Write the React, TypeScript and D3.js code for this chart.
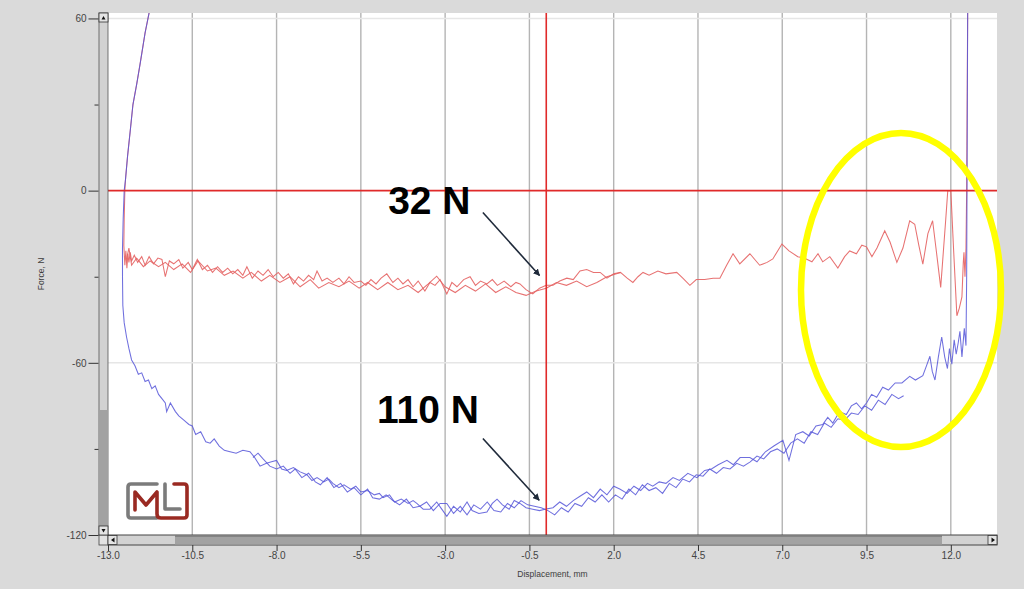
import React, { useEffect, useRef } from 'react'
import * as d3 from 'd3'

type Pt = [number, number]

// axis ticks
const xTickValues = [-13, -10.5, -8, -5.5, -3, -0.5, 2, 4.5, 7, 9.5, 12]
const yMajorTicks = [60, 0, -60, -120]
const yMinorTicks = [30, -30, -90]
const yGridLines = [60, -60]

// red trace, pass 1 (full run)
const redPass1: Pt[] = [
  [-11.78, 62], [-11.9, 55], [-12.05, 44], [-12.15, 37], [-12.26, 30], [-12.33, 22], [-12.42, 12], [-12.48, 4],
  [-12.5, 0], [-12.52, -10], [-12.53, -19], [-12.5, -26], [-12.47, -21], [-12.44, -27], [-12.41, -22], [-12.38, -25],
  [-12.34, -21.5], [-12.3, -24.5], [-12.22, -22.5], [-12.12, -25], [-12.0, -23], [-11.9, -26], [-11.78, -23],
  [-11.65, -25.5], [-11.52, -23.5], [-11.4, -24], [-11.3, -30], [-11.18, -24.5], [-11.05, -25.5], [-10.9, -24],
  [-10.78, -27], [-10.62, -25], [-10.5, -27.5], [-10.35, -24], [-10.2, -27.5], [-10.05, -26], [-9.9, -28.5],
  [-9.75, -26.5], [-9.6, -28.5], [-9.45, -27], [-9.3, -29], [-9.15, -27.5], [-9.0, -29.5], [-8.88, -26.5],
  [-8.72, -30.5], [-8.55, -28], [-8.4, -29.5], [-8.25, -27.5], [-8.1, -30], [-7.95, -28.5], [-7.8, -30.5],
  [-7.65, -29], [-7.5, -32.5], [-7.35, -30], [-7.2, -31.5], [-7.05, -29.5], [-6.9, -31], [-6.8, -28],
  [-6.65, -31.5], [-6.5, -30.5], [-6.33, -32], [-6.15, -30.5], [-6.0, -32.5], [-5.85, -30], [-5.7, -32],
  [-5.5, -31.5], [-5.35, -33], [-5.2, -31], [-5.05, -32.5], [-4.9, -30.5], [-4.73, -29], [-4.55, -32],
  [-4.4, -30.5], [-4.25, -32.5], [-4.1, -31], [-3.95, -33.5], [-3.8, -31.5], [-3.6, -35], [-3.45, -32],
  [-3.3, -33], [-3.15, -31], [-2.95, -36], [-2.8, -32], [-2.65, -33.5], [-2.45, -31], [-2.26, -30],
  [-2.1, -33], [-1.95, -31.5], [-1.76, -32.5], [-1.6, -31], [-1.45, -33], [-1.25, -31.5], [-1.05, -33.5],
  [-0.9, -32], [-0.78, -32.5], [-0.6, -34.5], [-0.4, -36], [-0.2, -34], [0, -33], [0.2, -33], [0.4, -31.5],
  [0.61, -30.5], [0.8, -31], [1.0, -28], [1.2, -27.5], [1.4, -28.5], [1.6, -28.5], [1.8, -30.5], [2.0, -29],
  [2.2, -28.5], [2.4, -30.5], [2.57, -32], [2.72, -30], [2.87, -28.5], [3.05, -29.5], [3.31, -28], [3.55, -29],
  [3.87, -28.5], [4.05, -30.5], [4.26, -33], [4.45, -31], [4.7, -31], [4.95, -30.5], [5.15, -30.5], [5.35, -26],
  [5.54, -22], [5.74, -25.5], [6.04, -22], [6.33, -26], [6.55, -25], [6.72, -23.8], [6.99, -18.6], [7.2, -21],
  [7.46, -23], [7.65, -23.5], [7.88, -24.8], [8.06, -22], [8.2, -24.8], [8.41, -23], [8.65, -27], [8.85, -23],
  [9.0, -21], [9.2, -22], [9.36, -19], [9.5, -19.6], [9.66, -23], [9.81, -20], [10.04, -14], [10.2, -18],
  [10.4, -25], [10.58, -20], [10.78, -10.5], [10.93, -11.7], [11.05, -19], [11.17, -25.6], [11.32, -15],
  [11.46, -10.5], [11.58, -22], [11.7, -33.7], [11.85, -10], [11.91, 0], [12.0, 0], [12.08, -20], [12.18, -43.6],
  [12.25, -41], [12.33, -37], [12.37, -25], [12.39, -21.5], [12.42, -30], [12.45, -20], [12.47, 0], [12.5, 62],
]

// red trace, pass 2 (ends mid-way)
const redPass2: Pt[] = [
  [-12.45, -24], [-12.38, -20], [-12.3, -26], [-12.15, -23.5], [-11.95, -26.5], [-11.75, -24.5], [-11.5, -26.5],
  [-11.3, -25], [-11.05, -27.5], [-10.8, -25.5], [-10.55, -28.5], [-10.33, -24.5], [-10.05, -28], [-9.8, -27],
  [-9.55, -29.5], [-9.29, -28], [-9.0, -30.5], [-8.75, -28.5], [-8.45, -31.5], [-8.2, -29.5], [-7.9, -32],
  [-7.6, -30], [-7.3, -33.5], [-7.0, -31], [-6.75, -34], [-6.45, -32], [-6.15, -33.5], [-5.85, -31.5],
  [-5.55, -34], [-5.3, -32], [-5.0, -34.5], [-4.7, -32], [-4.4, -34.5], [-4.1, -33], [-3.8, -35.5],
  [-3.5, -32.5], [-3.25, -29.8], [-3.0, -33.5], [-2.7, -35.5], [-2.4, -33], [-2.1, -35], [-1.8, -32.5],
  [-1.5, -35.5], [-1.2, -33.5], [-0.9, -35.5], [-0.6, -36.5], [-0.3, -35], [0, -34], [0.3, -32], [0.6, -33],
  [0.9, -31.5], [1.2, -33.5], [1.5, -32], [1.8, -30], [2.2, -28.5],
]

// blue trace, pass 1 (full run)
const bluePass1: Pt[] = [
  [-11.78, 62], [-11.9, 55], [-12.05, 44], [-12.15, 37], [-12.26, 30], [-12.33, 22], [-12.42, 12], [-12.48, 4],
  [-12.52, 0], [-12.55, -10], [-12.57, -20], [-12.57, -30], [-12.56, -40], [-12.52, -46], [-12.45, -51],
  [-12.38, -55], [-12.3, -59], [-12.2, -61], [-12.1, -64], [-12.0, -63.5], [-11.9, -66.5], [-11.8, -66],
  [-11.7, -69], [-11.6, -68], [-11.5, -71], [-11.4, -72.5], [-11.3, -74], [-11.26, -77], [-11.15, -74],
  [-11.0, -77], [-10.9, -78.5], [-10.75, -80], [-10.6, -81.5], [-10.5, -82], [-10.4, -85], [-10.25, -84],
  [-10.1, -87.5], [-9.97, -88], [-9.85, -86.5], [-9.7, -89], [-9.55, -90.5], [-9.38, -91], [-9.2, -91.5],
  [-9.0, -90.5], [-8.79, -91], [-8.65, -93], [-8.49, -96], [-8.3, -95], [-8.15, -94.5], [-8.0, -94],
  [-7.85, -97], [-7.7, -97.5], [-7.5, -96.5], [-7.3, -98], [-7.1, -99], [-6.95, -101], [-6.8, -100],
  [-6.6, -101.5], [-6.45, -100.5], [-6.33, -102], [-6.15, -103.5], [-6.0, -102.5], [-5.8, -104], [-5.65, -103],
  [-5.5, -105], [-5.3, -104.5], [-5.1, -106], [-4.95, -105.5], [-4.84, -107], [-4.65, -106], [-4.5, -108.5],
  [-4.3, -107.5], [-4.1, -109], [-3.95, -108], [-3.84, -109], [-3.65, -111], [-3.45, -111], [-3.25, -108.5],
  [-3.1, -111], [-2.95, -113.5], [-2.75, -110], [-2.55, -112], [-2.35, -108.5], [-2.2, -111.5], [-2.0, -112.5],
  [-1.76, -112], [-1.6, -109], [-1.46, -107.5], [-1.3, -109.5], [-1.1, -111], [-0.95, -108], [-0.78, -109],
  [-0.6, -110.5], [-0.4, -111], [-0.2, -111.5], [-0.04, -111], [0.2, -110.5], [0.4, -108.5], [0.6, -110],
  [0.8, -108], [1.0, -106.5], [1.2, -105], [1.4, -107], [1.6, -104], [1.8, -106], [2.0, -103], [2.18, -104],
  [2.4, -105.5], [2.6, -103], [2.8, -104.5], [3.0, -102], [3.16, -103], [3.35, -101.5], [3.55, -102],
  [3.76, -100], [3.95, -101], [4.2, -98.5], [4.47, -100], [4.7, -97.5], [4.9, -97], [5.1, -95.5], [5.36, -94],
  [5.55, -95.5], [5.75, -93], [6.04, -93], [6.25, -94.5], [6.5, -91], [6.75, -89], [7.02, -87], [7.2, -94],
  [7.4, -85], [7.61, -84], [7.8, -85.5], [8.0, -82], [8.2, -81.5], [8.35, -79], [8.5, -81], [8.7, -77],
  [8.9, -78], [9.05, -75], [9.2, -74], [9.35, -76], [9.5, -74], [9.65, -71], [9.8, -72], [9.98, -68.5],
  [10.15, -69.5], [10.35, -67], [10.55, -67], [10.78, -64.7], [10.95, -66], [11.17, -64.5], [11.28, -61],
  [11.38, -57.7], [11.45, -63], [11.53, -66], [11.63, -58], [11.73, -51], [11.82, -58], [11.9, -62],
  [11.96, -55], [12.03, -60.5], [12.1, -52], [12.16, -57], [12.22, -53], [12.27, -49], [12.33, -58],
  [12.4, -48], [12.45, -54], [12.47, -30], [12.48, 0], [12.5, 62],
]

// blue trace, pass 2 (ends before the right edge)
const bluePass2: Pt[] = [
  [-8.7, -93], [-8.55, -91.5], [-8.4, -93.5], [-8.2, -96], [-8.0, -97], [-7.8, -96], [-7.6, -98.5],
  [-7.45, -97], [-7.25, -100], [-7.05, -98.5], [-6.85, -101.5], [-6.7, -102.5], [-6.5, -100], [-6.3, -103.5],
  [-6.1, -102], [-5.9, -105], [-5.7, -103.5], [-5.5, -106], [-5.3, -104], [-5.15, -107], [-4.95, -107.5],
  [-4.75, -106], [-4.55, -108], [-4.35, -109.5], [-4.15, -107.5], [-3.95, -110.5], [-3.75, -110],
  [-3.55, -108.5], [-3.35, -111.5], [-3.15, -109], [-2.95, -109], [-2.75, -112.5], [-2.55, -110],
  [-2.35, -113], [-2.15, -109.5], [-1.95, -111], [-1.75, -108.5], [-1.55, -111.5], [-1.35, -112],
  [-1.15, -109], [-0.95, -110.5], [-0.75, -108], [-0.55, -109.5], [-0.35, -110], [-0.15, -110.5],
  [0.05, -111.5], [0.25, -113], [0.45, -110.5], [0.65, -112], [0.85, -109], [1.05, -110], [1.25, -107],
  [1.45, -108.5], [1.65, -106], [1.85, -108.5], [2.05, -106], [2.25, -107.5], [2.45, -104], [2.65, -106],
  [2.85, -102.5], [3.05, -104.5], [3.25, -103.5], [3.45, -105.5], [3.65, -102], [3.85, -103.5], [4.05, -100.5],
  [4.25, -101.5], [4.45, -99], [4.65, -99.5], [4.85, -97], [5.05, -98.5], [5.25, -96.5], [5.45, -97],
  [5.65, -95], [5.85, -96], [6.05, -94.5], [6.25, -92.5], [6.45, -93.5], [6.65, -91], [6.85, -90],
  [7.05, -91.5], [7.25, -88], [7.45, -86.5], [7.65, -88], [7.85, -84], [8.05, -85], [8.25, -81], [8.45, -82.5],
  [8.65, -79.5], [8.85, -80], [9.05, -77.5], [9.25, -78], [9.45, -75], [9.65, -76.5], [9.85, -73],
  [10.05, -74.5], [10.25, -71], [10.45, -72.5], [10.6, -71.5],
]

// annotations: label, label anchor, arrow start, arrow tip (data units)
const annLabels = ['32 N', '110 N']
const annText: Pt[] = [[-4.69, -8.3], [-5.02, -81.1]]
const annFrom: Pt[] = [[-1.88, -7.6], [-1.88, -86.4]]
const annTo: Pt[] = [[-0.2, -29.6], [-0.21, -107.9]]

const W = 1024
const H = 589
const FONT = '"Liberation Sans", Arial, sans-serif'

const App = () => {
  const refSvg = useRef<SVGSVGElement>(null)

  useEffect(() => {
    if (!refSvg.current) return
    const svg = d3.select(refSvg.current)
    svg.selectAll('*').remove()

    const left = 108, right = 997, top = 13, bottom = 535
    const x = d3.scaleLinear().domain([-13, 13.37]).range([left, right])
    const y = d3.scaleLinear().domain([-120, 61.9]).range([bottom, top])

    svg.append('rect').attr('width', W).attr('height', H).attr('fill', '#dadada')
    svg.append('rect').attr('x', left).attr('y', top).attr('width', right - left).attr('height', bottom - top).attr('fill', '#fff')

    const defs = svg.append('defs')
    defs.append('clipPath').attr('id', 'plotclip').append('rect')
      .attr('x', left).attr('y', top).attr('width', right - left).attr('height', bottom - top)
    defs.append('marker').attr('id', 'arrowhead').attr('viewBox', '0 0 10 10')
      .attr('refX', 9).attr('refY', 5).attr('markerWidth', 7).attr('markerHeight', 7)
      .attr('orient', 'auto').attr('markerUnits', 'userSpaceOnUse')
      .append('path').attr('d', 'M0,0 L10,5 L0,10 z').attr('fill', '#1f2a3a')

    // grid
    const grid = svg.append('g')
    grid.selectAll('.vg').data(xTickValues.slice(1)).enter().append('line')
      .attr('x1', (d) => x(d)).attr('x2', (d) => x(d)).attr('y1', top).attr('y2', bottom)
      .attr('stroke', '#b4b4b4').attr('stroke-width', 1.4)
    grid.selectAll('.hg').data(yGridLines).enter().append('line')
      .attr('x1', left).attr('x2', right).attr('y1', (d) => y(d)).attr('y2', (d) => y(d))
      .attr('stroke', '#e6e6e6').attr('stroke-width', 1.4)

    // traces
    const line = d3.line<Pt>().x((d) => x(d[0])).y((d) => y(d[1]))
    const traces = svg.append('g').attr('clip-path', 'url(#plotclip)').attr('fill', 'none')
    ;[redPass2, redPass1].forEach((p) => {
      traces.append('path').attr('d', line(p)).attr('stroke', '#e46262').attr('stroke-width', 1.05).attr('stroke-opacity', 0.9)
    })
    ;[bluePass2, bluePass1].forEach((p) => {
      traces.append('path').attr('d', line(p)).attr('stroke', '#5656d8').attr('stroke-width', 1.05).attr('stroke-opacity', 0.85)
    })

    // crosshair at origin
    svg.append('line').attr('x1', left).attr('x2', right).attr('y1', y(0)).attr('y2', y(0))
      .attr('stroke', '#e02a2a').attr('stroke-width', 1.6)
    svg.append('line').attr('x1', x(0)).attr('x2', x(0)).attr('y1', top).attr('y2', bottom)
      .attr('stroke', '#e02a2a').attr('stroke-width', 1.6)

    // logo
    const logo = svg.append('g').attr('fill', 'none').attr('stroke-width', 3.6)
      .attr('stroke-linejoin', 'round').attr('stroke-linecap', 'round')
    logo.append('path').attr('d', 'M157,484 L131,484 Q128,484 128,487 L128,515 Q128,518 131,518 L157,518').attr('stroke', '#7b7b7b')
    logo.append('path').attr('d', 'M165,484 L165,509 L180,509').attr('stroke', '#7b7b7b')
    logo.append('path').attr('d', 'M135,510 L135,492 L146,505 L157,492 L157,514 Q157,518 161,518 L184,518 Q187,518 187,515 L187,487 Q187,484 184,484 L174,484').attr('stroke', '#9a2a22')

    // highlight ellipse
    svg.append('ellipse').attr('cx', 901).attr('cy', 290).attr('rx', 100).attr('ry', 157)
      .attr('fill', 'none').attr('stroke', '#ffff00').attr('stroke-width', 6.5)

    // annotations
    annLabels.forEach((t, i) => {
      svg.append('text').attr('x', x(annText[i][0])).attr('y', y(annText[i][1]))
        .attr('font-family', FONT).attr('font-weight', 'bold').attr('font-size', 39).attr('fill', '#000').text(t)
      svg.append('line').attr('x1', x(annFrom[i][0])).attr('y1', y(annFrom[i][1]))
        .attr('x2', x(annTo[i][0])).attr('y2', y(annTo[i][1]))
        .attr('stroke', '#1f2a3a').attr('stroke-width', 1.6).attr('marker-end', 'url(#arrowhead)')
    })

    // scrollbars
    const sb = svg.append('g')
    sb.append('rect').attr('x', 99).attr('y', top).attr('width', 9).attr('height', bottom - top).attr('fill', '#d2d2d2').attr('stroke', '#555').attr('stroke-width', 0.8)
    sb.append('rect').attr('x', 99.5).attr('y', 410).attr('width', 8).attr('height', 117).attr('fill', '#a2a2a2')
    sb.append('rect').attr('x', left).attr('y', bottom).attr('width', right - left).attr('height', 10).attr('fill', '#d2d2d2').attr('stroke', '#444').attr('stroke-width', 1)
    sb.append('rect').attr('x', 175).attr('y', bottom + 0.5).attr('width', 767).attr('height', 9).attr('fill', '#a2a2a2')
    sb.append('line').attr('x1', 175).attr('x2', 942).attr('y1', bottom + 1).attr('y2', bottom + 1).attr('stroke', '#666').attr('stroke-width', 1)
    sb.append('rect').attr('x', 99).attr('y', bottom).attr('width', 9).attr('height', 10).attr('fill', '#e2e2e2').attr('stroke', '#444').attr('stroke-width', 0.8)
    const btn = (bx: number, by: number, tri: string) => {
      sb.append('rect').attr('x', bx).attr('y', by).attr('width', 9).attr('height', 9).attr('fill', '#e4e4e4').attr('stroke', '#333').attr('stroke-width', 0.8)
      sb.append('path').attr('d', tri).attr('fill', '#111')
    }
    btn(99, top, 'M101.5,19.5 L103.5,16 L105.5,19.5 z')
    btn(99, 526, 'M101.5,529 L103.5,532.5 L105.5,529 z')
    btn(left, bottom + 0.5, 'M114.5,537.5 L111,540 L114.5,542.5 z')
    btn(988, bottom + 0.5, 'M991.5,537.5 L995,540 L991.5,542.5 z')

    // axes
    const yAxis = svg.append('g').attr('transform', 'translate(98.5,0)')
      .call(d3.axisLeft(y).tickValues(yMajorTicks).tickSize(10).tickPadding(2).tickSizeOuter(0).tickFormat((d) => String(d)))
    const yMinor = svg.append('g').attr('transform', 'translate(98.5,0)')
      .call(d3.axisLeft(y).tickValues(yMinorTicks).tickSize(4).tickSizeOuter(0).tickFormat(() => ''))
    const xAxis = svg.append('g').attr('transform', `translate(0,${bottom + 10})`)
      .call(d3.axisBottom(x).tickValues(xTickValues).tickSize(6).tickPadding(1).tickSizeOuter(0).tickFormat((d) => (d as number).toFixed(1)))
    ;[yAxis, yMinor, xAxis].forEach((g) => {
      g.select('.domain').remove()
      g.selectAll('line').attr('stroke', '#333')
      g.selectAll('text').attr('font-family', FONT).attr('font-size', 10).attr('fill', '#444')
    })

    svg.append('text').attr('x', (left + right) / 2).attr('y', 577).attr('text-anchor', 'middle')
      .attr('font-family', FONT).attr('font-size', 8.5).attr('fill', '#3c3c3c').text('Displacement, mm')
    svg.append('text').attr('transform', `translate(44,${(top + bottom) / 2}) rotate(-90)`).attr('text-anchor', 'middle')
      .attr('font-family', FONT).attr('font-size', 8.5).attr('fill', '#3c3c3c').text('Force, N')
  })

  return <svg ref={refSvg} width={W} height={H} style={{ position: 'absolute', left: 0, top: 0 }} />
}

export default App
